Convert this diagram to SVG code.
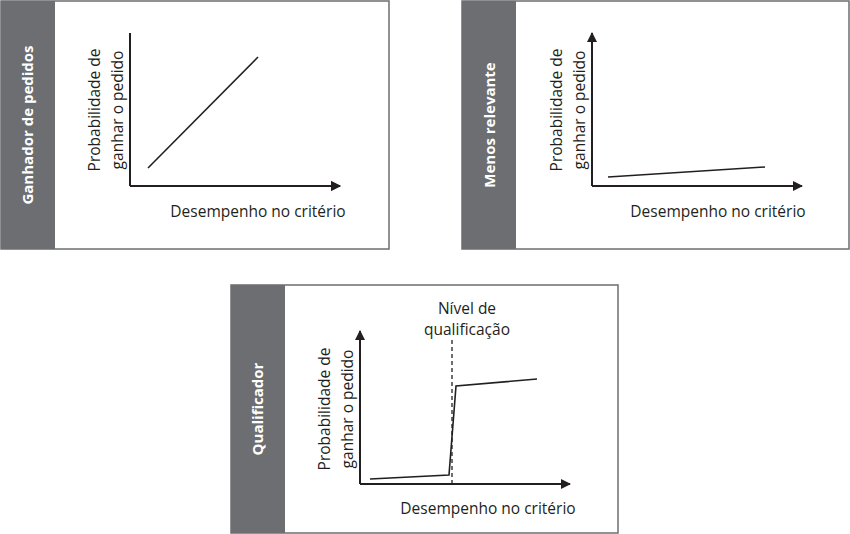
<svg xmlns="http://www.w3.org/2000/svg" width="850" height="534" viewBox="0 0 850 534">
<style>
.frame{fill:#fff;stroke:#6d6e71;stroke-width:1.5}
.side{fill:#6d6e71}
.st{font-family:"Open Sans","Liberation Sans",sans-serif;font-weight:bold;font-size:15px;fill:#fff;text-anchor:middle}
.lb{font-family:"Open Sans","Liberation Sans",sans-serif;font-size:15.5px;fill:#231f20;text-anchor:middle}
.ax{stroke:#231f20;stroke-width:2;fill:none}
.cv{stroke:#231f20;stroke-width:1.6;fill:none}
</style>
<defs>
<marker id="ar" viewBox="0 0 10 10" refX="9" refY="5" markerWidth="5" markerHeight="5" orient="auto" markerUnits="strokeWidth"><path d="M0,0L10,5L0,10z" fill="#231f20"/></marker>
</defs>
<g id="panel1">
<rect class="frame" x="1" y="1" width="388" height="248"/>
<rect class="side" x="1" y="1" width="54" height="248"/>
<text class="st" transform="translate(33,125) rotate(-90)">Ganhador de pedidos</text>
<text class="lb" transform="translate(100,110) rotate(-90)">Probabilidade de</text>
<text class="lb" transform="translate(123,110) rotate(-90)">ganhar o pedido</text>
<text class="lb" x="258" y="217">Desempenho no critério</text>
<path class="ax" d="M130,186V33M130,186H340" marker-end="url(#ar)"/>
<path class="ax" d="M130,186H340" marker-end="url(#ar)"/>
<path class="cv" d="M148,168L258,57"/>
</g>
<g id="panel2">
<rect class="frame" x="462" y="1" width="387" height="248"/>
<rect class="side" x="462" y="1" width="54" height="248"/>
<text class="st" transform="translate(495,125) rotate(-90)">Menos relevante</text>
<text class="lb" transform="translate(562,110) rotate(-90)">Probabilidade de</text>
<text class="lb" transform="translate(585,110) rotate(-90)">ganhar o pedido</text>
<text class="lb" x="718" y="217">Desempenho no critério</text>
<path class="ax" d="M592,186V33" marker-end="url(#ar)"/>
<path class="ax" d="M592,186H802" marker-end="url(#ar)"/>
<path class="cv" d="M608,177L765,167"/>
</g>
<g id="panel3">
<rect class="frame" x="231" y="285" width="387" height="248"/>
<rect class="side" x="231" y="285" width="54" height="248"/>
<text class="st" transform="translate(263,409) rotate(-90)">Qualificador</text>
<text class="lb" transform="translate(330,409) rotate(-90)">Probabilidade de</text>
<text class="lb" transform="translate(353,409) rotate(-90)">ganhar o pedido</text>
<text class="lb" x="488" y="514">Desempenho no critério</text>
<text class="lb" x="467" y="314">Nível de</text>
<text class="lb" x="467" y="335">qualificação</text>
<path class="ax" d="M360,484V331" marker-end="url(#ar)"/>
<path class="ax" d="M360,484H570" marker-end="url(#ar)"/>
<path d="M452,340V484" stroke="#231f20" stroke-width="1.3" stroke-dasharray="4,3" fill="none"/>
<path class="cv" d="M370,479L449,475L456,386L537,379"/>
</g>
</svg>
